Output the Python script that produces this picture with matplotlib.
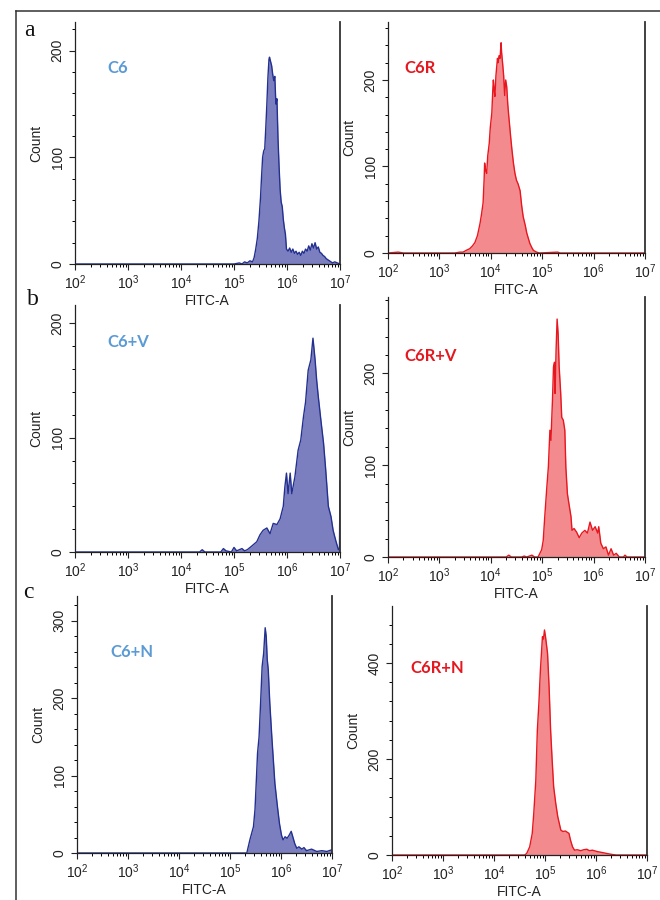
import numpy as np
import matplotlib
matplotlib.use("Agg")
import matplotlib.pyplot as plt
from matplotlib.lines import Line2D
from matplotlib.ticker import LogLocator, MultipleLocator, FixedLocator

plt.rcParams['font.family'] = ['Liberation Sans', 'DejaVu Sans']
plt.rcParams['mathtext.fontset'] = 'custom'
plt.rcParams['mathtext.rm'] = 'Liberation Sans'
plt.rcParams['mathtext.it'] = 'Liberation Sans:italic'
plt.rcParams['mathtext.bf'] = 'Liberation Sans:bold'

# ---------------- data (log10 FITC-A positions, counts) ----------------
c6_logx = [2.0, 4.8, 5.0, 5.10, 5.15, 5.20, 5.25, 5.30, 5.35, 5.38, 5.41, 5.44, 5.47, 5.50, 5.52,
           5.54, 5.56, 5.58, 5.60, 5.62, 5.64, 5.66, 5.67, 5.69, 5.71, 5.73, 5.75, 5.77, 5.79,
           5.81, 5.83, 5.85, 5.87, 5.89, 5.91, 5.93, 5.95, 5.97, 5.99, 6.02, 6.05, 6.08, 6.11,
           6.14, 6.17, 6.20, 6.23, 6.26, 6.29, 6.32, 6.35, 6.38, 6.41, 6.44, 6.47, 6.50, 6.53,
           6.56, 6.59, 6.62, 6.65, 6.68, 6.71, 6.74, 6.77, 6.80, 6.83, 6.86, 6.90, 6.95, 7.0]
c6_counts = [0, 0, 0, 1, 0, 2, 1, 3, 2, 6, 14, 24, 40, 62, 82,
             100, 106, 108, 128, 150, 175, 192, 194, 190, 186, 178, 172, 176, 150,
             155, 118, 92, 70, 58, 54, 42, 34, 28, 14, 12, 15, 11, 14,
             10, 12, 9, 11, 8, 12, 10, 14, 12, 17, 13, 19, 15, 20,
             14, 16, 11, 10, 8, 7, 5, 4, 3, 2, 1, 2, 1, 0]

c6r_logx = [2.0, 2.2, 2.3, 3.0, 3.3, 3.4, 3.46, 3.52, 3.59, 3.64, 3.69, 3.74, 3.79, 3.82, 3.85,
            3.87, 3.88, 3.90, 3.92, 3.94, 3.97, 3.99, 4.02, 4.04, 4.05, 4.07, 4.08, 4.10, 4.11,
            4.13, 4.14, 4.16, 4.18, 4.20, 4.21, 4.23, 4.25, 4.27, 4.29, 4.31, 4.33, 4.35, 4.37,
            4.39, 4.41, 4.44, 4.47, 4.50, 4.53, 4.57, 4.60, 4.63, 4.67, 4.70, 4.73, 4.76, 4.80,
            4.83, 4.86, 4.89, 4.95, 5.3, 5.35, 7.0]
c6r_counts = [0, 1, 0, 0, 0, 1, 1, 3, 5, 8, 12, 20, 34, 45, 58,
              85, 104, 95, 92, 112, 127, 145, 162, 190, 200, 185, 181, 205, 212,
              225, 220, 228, 225, 243, 232, 219, 205, 182, 200, 192, 172, 158, 145,
              132, 120, 104, 92, 84, 80, 72, 55, 42, 32, 23, 17, 11, 6,
              3, 2, 1, 0, 1, 0, 0]

c6v_logx = [2.0, 4.35, 4.40, 4.45, 4.75, 4.80, 4.85, 4.95, 5.00, 5.05, 5.15, 5.20, 5.25, 5.33,
            5.38, 5.43, 5.49, 5.55, 5.62, 5.68, 5.74, 5.81, 5.87, 5.93, 5.96, 5.99, 6.02, 6.06,
            6.09, 6.15, 6.21, 6.26, 6.31, 6.35, 6.40, 6.45, 6.49, 6.53, 6.56, 6.59, 6.64, 6.69,
            6.73, 6.78, 6.83, 6.87, 6.92, 6.97, 6.99, 7.0]
c6v_counts = [0, 0, 2, 0, 0, 3, 1, 0, 4, 1, 3, 1, 2, 5,
              7, 9, 15, 19, 21, 16, 25, 24, 29, 40, 57, 69, 51, 69,
              51, 66, 89, 98, 118, 131, 159, 168, 187, 168, 150, 136, 115, 95,
              72, 40, 31, 19, 10, 2, 3, 62]

c6rv_logx = [2.0, 4.30, 4.35, 4.40, 4.60, 4.65, 4.70, 4.80, 4.85, 4.92, 4.99, 5.02, 5.05, 5.09,
             5.12, 5.15, 5.17, 5.20, 5.22, 5.24, 5.25, 5.27, 5.29, 5.31, 5.33, 5.36, 5.38, 5.41,
             5.44, 5.46, 5.49, 5.52, 5.56, 5.58, 5.62, 5.67, 5.72, 5.77, 5.83, 5.88, 5.93, 5.98,
             6.03, 6.08, 6.10, 6.14, 6.19, 6.24, 6.29, 6.34, 6.39, 6.44, 6.50, 6.58, 6.61, 6.65, 7.0]
c6rv_counts = [0, 0, 2, 0, 0, 1, 0, 2, 0, 0, 8, 18, 44, 76,
               98, 138, 127, 171, 207, 212, 178, 225, 259, 243, 207, 178, 152, 149,
               138, 98, 69, 58, 44, 29, 31, 27, 21, 26, 29, 26, 38, 29,
               33, 26, 33, 15, 9, 11, 2, 9, 2, 4, 0, 0, 2, 0, 0]

c6n_logx = [2.0, 5.30, 5.33, 5.39, 5.46, 5.49, 5.52, 5.54, 5.57, 5.60, 5.63, 5.66, 5.69, 5.71,
            5.73, 5.75, 5.78, 5.82, 5.85, 5.88, 5.93, 5.97, 6.01, 6.04, 6.08, 6.12, 6.16, 6.20,
            6.24, 6.27, 6.31, 6.35, 6.41, 6.45, 6.50, 6.60, 6.70, 6.80, 6.90, 6.99, 7.0]
c6n_counts = [0, 0, 0, 17, 34, 56, 99, 129, 150, 194, 241, 258, 291, 280,
              250, 237, 194, 150, 120, 90, 60, 38, 23, 17, 21, 19, 23, 28,
              19, 12, 6, 8, 5, 7, 3, 5, 2, 3, 2, 4, 4]

c6rn_logx = [2.0, 4.60, 4.64, 4.70, 4.75, 4.78, 4.82, 4.85, 4.88, 4.91, 4.95, 4.97, 4.99, 5.01,
             5.05, 5.08, 5.11, 5.14, 5.17, 5.21, 5.25, 5.31, 5.35, 5.40, 5.47, 5.50, 5.54, 5.58,
             5.63, 5.70, 5.76, 5.82, 5.87, 5.93, 6.03, 6.13, 6.22, 6.32, 6.40, 7.0]
c6rn_counts = [0, 0, 3, 17, 45, 87, 156, 260, 316, 385, 455, 450, 469, 455,
               420, 351, 260, 198, 142, 108, 80, 52, 49, 50, 45, 31, 17, 10,
               11, 9, 11, 12, 9, 10, 7, 5, 3, 1, 0, 0]

panel_names = ['C6', 'C6R', 'C6+V', 'C6R+V', 'C6+N', 'C6R+N']
panel_letters = ['a', 'b', 'c']
y_ticks = [[0, 100, 200], [0, 100, 200], [0, 100, 200], [0, 100, 200],
           [0, 100, 200, 300], [0, 200, 400]]
y_tops = [227, 267, 216, 283, 332, 519]
y_minor = [20, 20, 20, 20, 20, 40]
x_ticks = [100, 1e3, 1e4, 1e5, 1e6, 1e7]
x_ticklabels = ['$10^{2}$', '$10^{3}$', '$10^{4}$', '$10^{5}$', '$10^{6}$', '$10^{7}$']

series = [(c6_logx, c6_counts), (c6r_logx, c6r_counts), (c6v_logx, c6v_counts),
          (c6rv_logx, c6rv_counts), (c6n_logx, c6n_counts), (c6rn_logx, c6rn_counts)]

# ---------------- layout ----------------
W, H = 660, 900
fig = plt.figure(figsize=(6.6, 9.0), dpi=100)

# axes boxes in pixels: left, right, top, bottom
boxes = [(75, 340, 22, 264), (388, 645, 22, 253),
         (75, 340, 305, 552), (388, 645, 297, 557),
         (77, 332, 596, 853), (392, 647, 606, 855)]
label_pos = [(107, 68), (404, 68), (107, 342), (404, 356), (110, 652), (410, 668)]
letter_pos = [(29, 30), (33, 300), (28, 592)]

blue_fill, blue_edge, blue_text = '#7C7FBF', '#23308F', '#5B9BD5'
red_fill, red_edge, red_text = '#F38B8E', '#E8161E', '#E5171F'

for i, ((l, r, t, b), (lx, cnt)) in enumerate(zip(boxes, series)):
    ax = fig.add_axes([l / W, 1 - b / H, (r - l) / W, (b - t) / H])
    x = 10 ** np.asarray(lx, dtype=float)
    y = np.asarray(cnt, dtype=float)
    is_blue = (i % 2 == 0)
    fc = blue_fill if is_blue else red_fill
    ec = blue_edge if is_blue else red_edge
    ax.fill_between(x, y, 0, color=fc, linewidth=0)
    ax.plot(x, y, color=ec, linewidth=1.0)
    ax.set_xscale('log')
    ax.set_xlim(1e2, 1e7)
    ax.set_ylim(0, y_tops[i])
    ax.xaxis.set_major_locator(FixedLocator(x_ticks))
    ax.set_xticklabels(x_ticklabels)
    ax.xaxis.set_minor_locator(LogLocator(base=10, subs=np.arange(2, 10), numticks=20))
    ax.yaxis.set_major_locator(FixedLocator(y_ticks[i]))
    ax.yaxis.set_minor_locator(MultipleLocator(y_minor[i]))
    ax.tick_params(axis='both', which='major', direction='out', length=4.5, width=0.8,
                   labelsize=10, colors='#222222')
    ax.tick_params(axis='both', which='minor', direction='out', length=2.3, width=0.7)
    ax.tick_params(axis='y', which='major', pad=3)
    ax.tick_params(axis='x', which='major', pad=2.5)
    for lab in ax.get_yticklabels():
        lab.set_rotation(90)
        lab.set_va('center')
    ax.spines['top'].set_visible(False)
    for s in ['left', 'bottom']:
        ax.spines[s].set_linewidth(0.9)
        ax.spines[s].set_color('#222222')
    ax.spines['right'].set_linewidth(1.3)
    ax.spines['right'].set_color('#333333')
    ax.set_xlabel('FITC-A', fontsize=10, labelpad=1.5, color='#222222')
    ax.set_ylabel('Count', fontsize=10, labelpad=5, color='#222222')
    ax.set_facecolor('white')
    px, py = label_pos[i]
    fig.text(px / W, 1 - py / H, panel_names[i], ha='left', va='center',
             fontsize=12, fontweight='bold', family=['Lato', 'DejaVu Sans'],
             color=blue_text if is_blue else red_text)

for (lx, ly), letter in zip(letter_pos, panel_letters):
    fig.text(lx / W, 1 - ly / H, letter, ha='center', va='center', fontsize=17,
             family=['Liberation Serif', 'DejaVu Serif'], color='#111111')

# outer frame (top and left edges)
fig.add_artist(Line2D([16 / W, 1.0], [1 - 11 / H, 1 - 11 / H], color='#333333', linewidth=1.1))
fig.add_artist(Line2D([16 / W, 16 / W], [1 - 11 / H, 0.0], color='#333333', linewidth=1.1))

fig.savefig('out.png', dpi=100, facecolor='white')
